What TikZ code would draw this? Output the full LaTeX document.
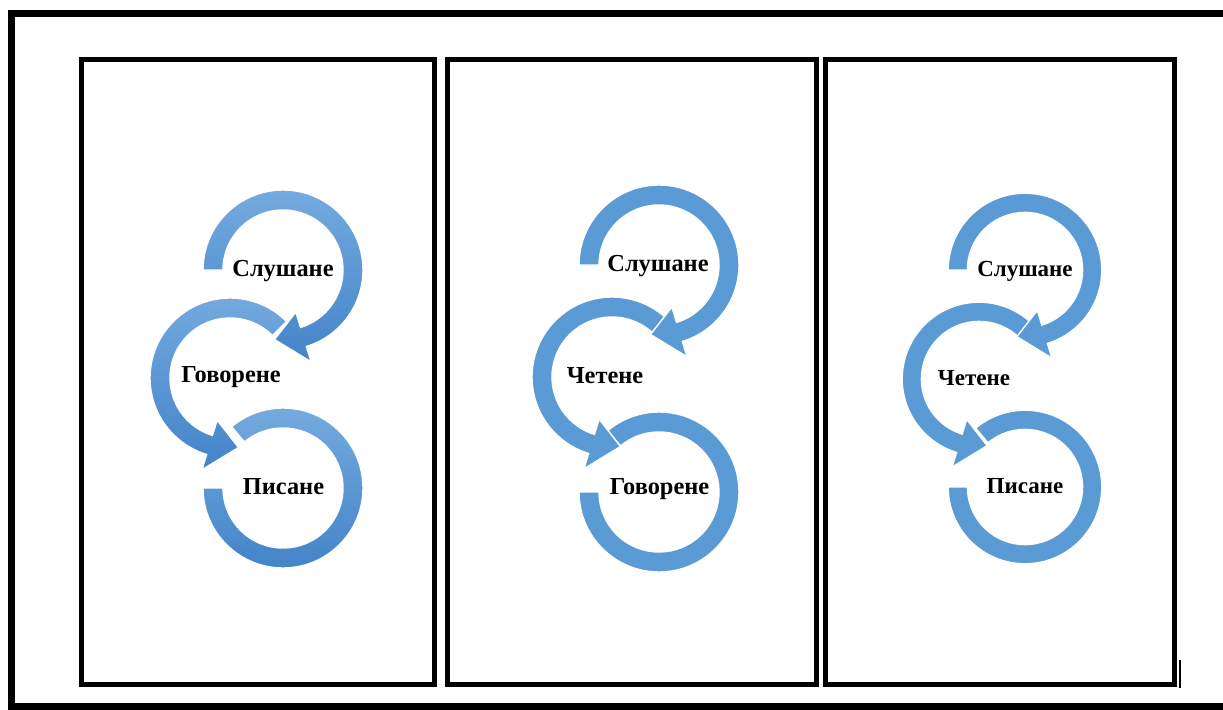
\documentclass[tikz,border=0pt]{standalone}
\usepackage{fontspec}
\setmainfont{Liberation Serif}
\usetikzlibrary{positioning}

\definecolor{ringblue}{HTML}{5B9BD5}
\definecolor{ringlight}{HTML}{74AADF}
\definecolor{ringdark}{HTML}{4384C8}

% ring with arrow head: style, centre, start, end of shaft, tip
\newcommand{\headring}[5]{%
  \path[shift={(#2)},#1] (#3:80) arc[start angle=#3, end angle=#4, radius=80]
    -- (#4:96) -- (#5:70) -- (#4:44) -- (#4:60)
    arc[start angle=#4, end angle=#3, radius=60] -- cycle;}
% ring without head: style, centre, start, end
\newcommand{\openring}[4]{%
  \path[shift={(#2)},#1] (#3:80) arc[start angle=#3, end angle=#4, radius=80]
    -- (#4:60) arc[start angle=#4, end angle=#3, radius=60] -- cycle;}

\begin{document}
\begin{tikzpicture}[x=0.5pt, y=0.5pt,
    panelbox/.style={draw=black, line width=2.5pt},
    ringtext/.style={font=\bfseries\fontsize{12.2}{14}\selectfont},
    smalltext/.style={font=\bfseries\fontsize{11.5}{13}\selectfont},
    flatring/.style={fill=ringblue, draw=white, line width=0.7pt},
    shadedring/.style={top color=ringlight, bottom color=ringdark, draw=white, line width=0.7pt},
    smallring/.style={fill=ringblue, draw=white, line width=0.7pt, scale=0.96}]
    \clip (0,0) rectangle (1223,709);

    % outer border and panels
    \draw[line width=3.5pt] (11.5,3) rectangle (1240,695.5);
    \draw[panelbox] (81,24.5) rectangle (434.5,649.5);
    \draw[panelbox] (447.5,24.5) rectangle (816,649.5);
    \draw[panelbox] (825,24.5) rectangle (1174.5,649.5);
    \draw[line width=0.8pt] (1180,21) -- (1180,49);

    % centres of the rings
    \coordinate (c1a) at (283,439);
    \coordinate (c1b) at (230,331);
    \coordinate (c1c) at (283,221);
    \coordinate (c2a) at (659,444);
    \coordinate (c2b) at (612,332);
    \coordinate (c2c) at (659,217);
    \coordinate (c3a) at (1025,439);
    \coordinate (c3b) at (979,330);
    \coordinate (c3c) at (1025,222);

    % first panel
    \openring{shadedring}{c1c}{180}{490}
    \headring{shadedring}{c1b}{45}{253}{277}
    \headring{shadedring}{c1a}{180}{-73}{-97}
    \node[ringtext] (s1) at (283,438) {Слушане};
    \node[ringtext] (g1) at (231,331.5) {Говорене};
    \node[ringtext] (p1) at (283.5,222.5) {Писане};

    % second panel
    \openring{flatring}{c2c}{180}{490}
    \headring{flatring}{c2b}{45}{253}{277}
    \headring{flatring}{c2a}{180}{-73}{-97}
    \node[ringtext] (s2) at (658,443) {Слушане};
    \node[ringtext] (ch2) at (605,333) {Четене};
    \node[ringtext] (g2) at (659.5,220) {Говорене};

    % third panel
    \openring{smallring}{c3c}{180}{490}
    \headring{smallring}{c3b}{45}{253}{277}
    \headring{smallring}{c3a}{180}{-73}{-97}
    \node[smalltext] (s3) at (1025,437.5) {Слушане};
    \node[smalltext] (ch3) at (974,331) {Четене};
    \node[smalltext] (p3) at (1025,222.5) {Писане};
\end{tikzpicture}
\end{document}
